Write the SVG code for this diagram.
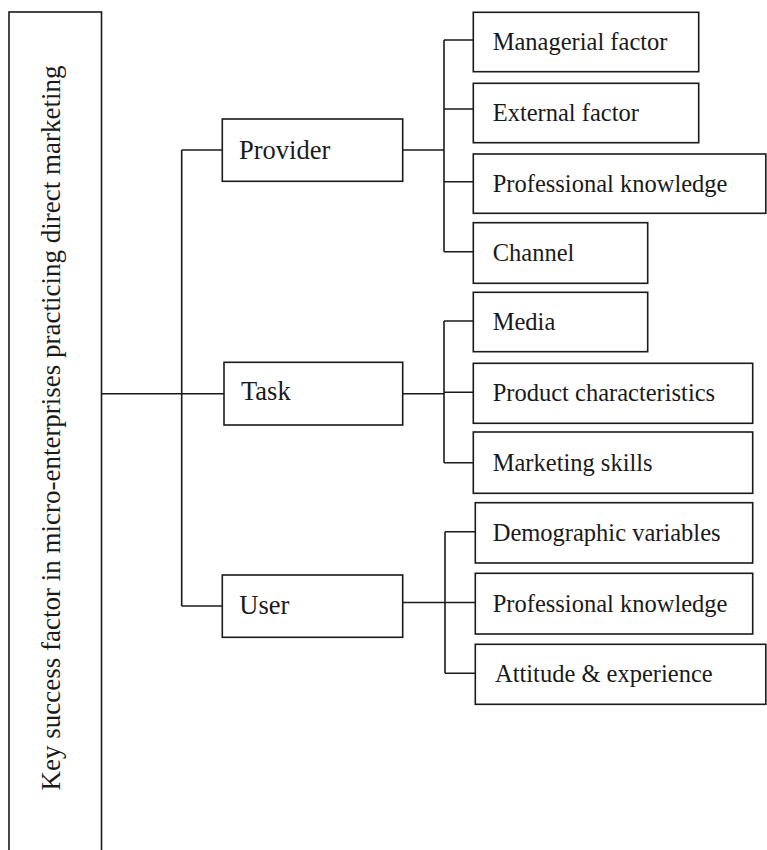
<svg xmlns="http://www.w3.org/2000/svg" width="767" height="850" viewBox="0 0 767 850">
<style>
.box{fill:#fff;stroke:#1a1a1a;stroke-width:1.6}
.ln{fill:none;stroke:#1a1a1a;stroke-width:1.6}
.t{font-family:"Liberation Serif","Times New Roman",serif;fill:#1a1a1a}
.mid{font-size:26.5px}
.leaf{font-size:24.5px}
.root{font-size:27px}
</style>
<rect width="767" height="850" fill="#fff"/>
<g id="connectors">
<path class="ln" d="M101,393.7H224"/>
<path class="ln" d="M181.7,150V606"/>
<path class="ln" d="M181.7,150H222.3"/>
<path class="ln" d="M181.7,606H222.3"/>
<path class="ln" d="M402.7,150H444"/>
<path class="ln" d="M444,40V251.7"/>
<path class="ln" d="M444,40H473.3M444,109H473.3M444,181.7H473.3M444,251.7H473.3"/>
<path class="ln" d="M402.7,393.7H444"/>
<path class="ln" d="M444,321V462.7"/>
<path class="ln" d="M444,321H473.3M444,392.3H473.3M444,462.7H473.3"/>
<path class="ln" d="M402.7,602.5H475.3"/>
<path class="ln" d="M445,531.7V673.3"/>
<path class="ln" d="M445,531.7H475.3M445,673.3H475.3"/>
</g>
<g id="root">
<rect class="box" x="9" y="12" width="92.5" height="850"/>
<text class="t root" transform="translate(60,428) rotate(-90)" text-anchor="middle">Key success factor in micro-enterprises practicing direct marketing</text>
</g>
<g id="provider">
<rect class="box" x="222.3" y="119" width="180.4" height="62.3"/>
<text class="t mid" x="239" y="158.5">Provider</text>
</g>
<g id="task">
<rect class="box" x="224" y="362.3" width="178.7" height="62.7"/>
<text class="t mid" x="241" y="399.5">Task</text>
</g>
<g id="user">
<rect class="box" x="222.3" y="575" width="180.4" height="62.3"/>
<text class="t mid" x="239.3" y="614">User</text>
</g>
<g id="managerial">
<rect class="box" x="473.3" y="12.3" width="225.4" height="59.4"/>
<text class="t leaf" x="492.7" y="50">Managerial factor</text>
</g>
<g id="external">
<rect class="box" x="473.3" y="83.3" width="225.4" height="59.4"/>
<text class="t leaf" x="492.7" y="120.5">External factor</text>
</g>
<g id="prof1">
<rect class="box" x="473.3" y="154" width="292.5" height="59.3"/>
<text class="t leaf" x="492.7" y="191.5">Professional knowledge</text>
</g>
<g id="channel">
<rect class="box" x="473.3" y="222.7" width="174.4" height="60.6"/>
<text class="t leaf" x="492.7" y="260.5">Channel</text>
</g>
<g id="media">
<rect class="box" x="473.3" y="292.3" width="174.4" height="59.4"/>
<text class="t leaf" x="492.7" y="329.5">Media</text>
</g>
<g id="product">
<rect class="box" x="473.3" y="363.3" width="279.4" height="60"/>
<text class="t leaf" x="492.7" y="401">Product characteristics</text>
</g>
<g id="marketing">
<rect class="box" x="473.3" y="432" width="279.4" height="61.3"/>
<text class="t leaf" x="492.7" y="470.5">Marketing skills</text>
</g>
<g id="demographic">
<rect class="box" x="475.3" y="502.7" width="277.4" height="60.3"/>
<text class="t leaf" x="492.7" y="540.5">Demographic variables</text>
</g>
<g id="prof2">
<rect class="box" x="475.3" y="573.3" width="277.4" height="60.7"/>
<text class="t leaf" x="492.7" y="611.5">Professional knowledge</text>
</g>
<g id="attitude">
<rect class="box" x="475.3" y="644.3" width="290.5" height="60"/>
<text class="t leaf" x="495" y="682">Attitude &amp; experience</text>
</g>
</svg>
